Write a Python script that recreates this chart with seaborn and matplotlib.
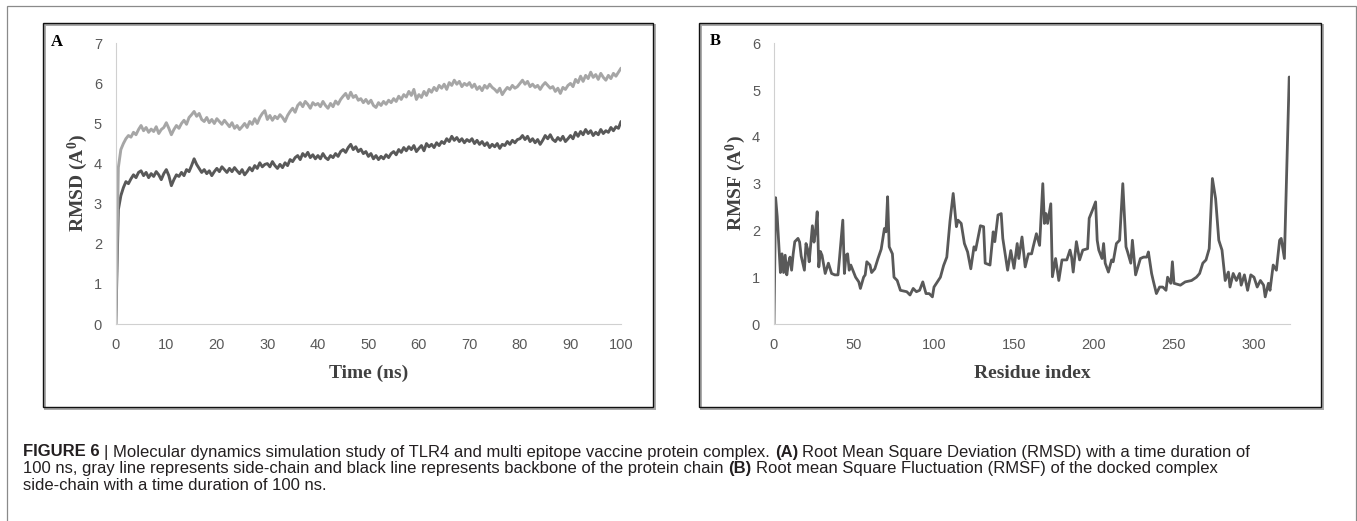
import numpy as np
import pandas as pd
import matplotlib
matplotlib.use("Agg")
import matplotlib.pyplot as plt
import seaborn as sns
from matplotlib.patches import Rectangle

# ---------------- data ----------------
time_ns = np.linspace(0, 100, 201)  # sampling times, 0.5 ns apart

rmsd_sidechain = [
    0.0, 3.9, 4.35, 4.5, 4.62, 4.7, 4.66, 4.78, 4.72, 4.85,
    4.95, 4.82, 4.9, 4.78, 4.86, 4.8, 4.92, 4.75, 4.85, 4.9,
    5.02, 4.88, 4.72, 4.85, 4.95, 4.88, 5.0, 5.08, 4.98, 5.15,
    5.22, 5.3, 5.18, 5.25, 5.1, 5.05, 5.15, 5.02, 5.1, 5.0,
    5.12, 5.05, 4.98, 5.08, 5.0, 4.92, 5.02, 4.88, 4.95, 4.85,
    4.92, 5.0, 4.9, 5.05, 4.98, 5.12, 5.0, 5.15, 5.25, 5.32,
    5.1, 5.2, 5.08, 5.18, 5.12, 5.22, 5.15, 5.05, 5.2, 5.3,
    5.38, 5.28, 5.45, 5.52, 5.42, 5.55, 5.48, 5.38, 5.52, 5.46,
    5.5, 5.42, 5.55, 5.45, 5.38, 5.5, 5.42, 5.56, 5.48, 5.6,
    5.68, 5.75, 5.62, 5.78, 5.65, 5.7, 5.58, 5.62, 5.52, 5.6,
    5.5, 5.58, 5.45, 5.4, 5.52, 5.45, 5.55, 5.48, 5.58, 5.52,
    5.62, 5.55, 5.68, 5.6, 5.72, 5.66, 5.8, 5.7, 5.85, 5.6,
    5.72, 5.65, 5.8, 5.7, 5.85, 5.78, 5.9, 5.82, 5.95, 5.88,
    5.98, 5.85, 6.02, 5.95, 6.08, 5.98, 6.05, 5.92, 6.0, 5.95,
    6.02, 5.9, 5.98, 5.85, 5.92, 5.82, 5.95, 5.88, 5.98, 5.9,
    5.85, 5.78, 5.88, 5.72, 5.82, 5.9, 5.85, 5.95, 5.88, 5.92,
    6.0, 6.08, 5.98, 6.05, 5.92, 5.98, 5.9, 5.95, 5.85, 5.95,
    6.02, 5.95, 5.88, 5.92, 5.8, 5.88, 5.75, 5.9, 5.85, 5.95,
    6.0, 5.92, 6.1, 6.02, 6.18, 6.05, 6.2, 6.12, 6.28, 6.15,
    6.22, 6.1, 6.25, 6.15, 6.08, 6.2, 6.12, 6.25, 6.18, 6.28,
    6.38,
]

rmsd_backbone = [
    0.0, 2.85, 3.2, 3.4, 3.55, 3.5, 3.62, 3.72, 3.65, 3.78,
    3.82, 3.7, 3.78, 3.65, 3.75, 3.68, 3.8, 3.72, 3.6, 3.75,
    3.85, 3.7, 3.45, 3.6, 3.72, 3.68, 3.78, 3.7, 3.85, 3.8,
    3.95, 4.12, 3.98, 3.88, 3.78, 3.85, 3.75, 3.82, 3.7, 3.8,
    3.88, 3.8, 3.92, 3.85, 3.78, 3.88, 3.8, 3.9, 3.82, 3.75,
    3.85, 3.72, 3.8, 3.9, 3.82, 3.95, 3.88, 4.02, 3.92, 3.98,
    4.0, 3.92, 4.05, 3.95, 3.88, 3.98, 3.9, 4.02, 3.95, 4.1,
    4.05, 4.15, 4.2, 4.1, 4.25, 4.18, 4.28, 4.15, 4.22, 4.12,
    4.2, 4.12, 4.25, 4.15, 4.1, 4.2, 4.15, 4.25, 4.18, 4.3,
    4.35, 4.28, 4.4, 4.48, 4.35, 4.42, 4.3, 4.36, 4.25, 4.3,
    4.18, 4.25, 4.12, 4.2, 4.1, 4.18, 4.12, 4.22, 4.15, 4.25,
    4.3, 4.22, 4.35, 4.28, 4.4, 4.32, 4.42, 4.35, 4.45, 4.3,
    4.38, 4.45, 4.32, 4.5, 4.42, 4.48, 4.4, 4.52, 4.45, 4.55,
    4.5, 4.62, 4.55, 4.68, 4.58, 4.65, 4.55, 4.62, 4.52, 4.6,
    4.55, 4.62, 4.5, 4.58, 4.48, 4.55, 4.45, 4.52, 4.4, 4.48,
    4.42, 4.5, 4.38, 4.48, 4.45, 4.55, 4.48, 4.58, 4.52, 4.6,
    4.62, 4.7, 4.6, 4.68, 4.55, 4.62, 4.52, 4.6, 4.48, 4.58,
    4.7, 4.62, 4.72, 4.6, 4.55, 4.65, 4.58, 4.68, 4.55, 4.62,
    4.7, 4.62, 4.78, 4.68, 4.8, 4.72, 4.85, 4.75, 4.82, 4.7,
    4.78, 4.72, 4.85, 4.75, 4.82, 4.78, 4.9, 4.82, 4.92, 4.88,
    5.05,
]

residue = [
    0, 1, 2, 3, 4, 5, 6, 7, 8, 9, 10, 11, 12, 13, 15, 16, 17, 19, 20, 21,
    22, 24, 25, 26, 27, 28, 29, 30, 32, 34, 36, 38, 40, 41, 43, 44, 45, 46, 47, 48,
    51, 53, 54, 56, 57, 58, 60, 61, 63, 65, 67, 69, 70, 71, 72, 74, 75, 77, 79, 83,
    85, 87, 89, 91, 93, 95, 97, 99, 100, 104, 106, 108, 110, 112, 114, 115, 117, 119, 121, 123,
    125, 126, 129, 131, 132, 135, 137, 138, 140, 142, 143, 146, 148, 150, 152, 153, 155, 157, 159, 161,
    162, 164, 166, 168, 169, 170, 171, 173, 174, 176, 178, 180, 183, 185, 186, 187, 189, 191, 193, 196,
    197, 199, 201, 202, 203, 205, 206, 207, 209, 211, 212, 214, 216, 218, 220, 221, 223, 224, 226, 229,
    231, 233, 234, 236, 237, 239, 241, 243, 245, 246, 248, 249, 250, 254, 257, 261, 264, 266, 268, 270,
    272, 274, 276, 278, 280, 282, 284, 285, 287, 289, 291, 292, 294, 296, 298, 300, 302, 304, 306, 307,
    309, 310, 312, 314, 316, 317, 319, 322,
]
rmsf = [
    0.0, 2.7, 2.3, 1.7, 1.1, 1.5, 1.1, 1.47, 1.05, 1.3, 1.43, 1.15, 1.5, 1.76, 1.83, 1.75, 1.45, 1.15, 1.72, 1.6,
    1.33, 2.1, 1.75, 2.0, 2.4, 1.22, 1.55, 1.47, 1.08, 1.3, 1.08, 1.05, 1.05, 1.43, 2.22, 1.08, 1.47, 1.5, 1.15, 1.26,
    1.0, 0.9, 0.76, 1.0, 1.05, 1.33, 1.26, 1.1, 1.18, 1.4, 1.6, 2.04, 1.97, 2.72, 1.65, 1.5, 1.0, 0.93, 0.72, 0.69,
    0.62, 0.76, 0.69, 0.72, 0.9, 0.65, 0.65, 0.58, 0.79, 1.0, 1.25, 1.43, 2.2, 2.79, 2.08, 2.22, 2.15, 1.72, 1.54, 1.18,
    1.65, 1.58, 2.1, 2.08, 1.3, 1.26, 1.97, 1.76, 2.33, 2.36, 1.83, 1.15, 1.57, 1.19, 1.72, 1.4, 1.86, 1.22, 1.5, 1.5,
    1.65, 1.93, 1.68, 3.0, 2.15, 2.36, 2.15, 2.57, 1.01, 1.4, 0.93, 1.37, 1.37, 1.58, 1.43, 1.11, 1.76, 1.37, 1.58, 1.61,
    2.26, 2.43, 2.61, 1.79, 1.58, 1.4, 1.72, 1.3, 1.11, 1.37, 1.33, 1.72, 1.79, 3.0, 1.65, 1.54, 1.3, 1.79, 1.05, 1.4,
    1.43, 1.43, 1.54, 1.08, 0.93, 0.65, 0.79, 0.79, 0.72, 1.0, 0.87, 1.33, 0.87, 0.83, 0.9, 0.93, 1.0, 1.08, 1.3, 1.37,
    1.61, 3.11, 2.68, 1.79, 1.58, 0.93, 1.11, 0.79, 1.08, 0.93, 1.08, 0.83, 1.05, 0.72, 1.05, 1.0, 0.79, 0.93, 0.83, 0.58,
    0.87, 0.72, 1.26, 1.15, 1.79, 1.83, 1.4, 5.28,
]

yticks_A = [0, 1, 2, 3, 4, 5, 6, 7]
xticks_A = [0, 10, 20, 30, 40, 50, 60, 70, 80, 90, 100]
yticks_B = [0, 1, 2, 3, 4, 5, 6]
xticks_B = [0, 50, 100, 150, 200, 250, 300]

caption_lines = [
    [("FIGURE 6", True), ("| Molecular dynamics simulation study of TLR4 and multi epitope vaccine protein complex.", False),
     ("(A)", True), ("Root Mean Square Deviation (RMSD) with a time duration of", False)],
    [("100 ns, gray line represents side-chain and black line represents backbone of the protein chain", False),
     ("(B)", True), ("Root mean Square Fluctuation (RMSF) of the docked complex", False)],
    [("side-chain with a time duration of 100 ns.", False)],
]

# ---------------- style ----------------
sns.set_style("white")
plt.rcParams["font.family"] = ["Liberation Sans", "DejaVu Sans"]
plt.rcParams["mathtext.fontset"] = "custom"
plt.rcParams["mathtext.rm"] = "Liberation Serif:bold"
plt.rcParams["mathtext.it"] = "Liberation Serif:bold"
plt.rcParams["mathtext.bf"] = "Liberation Serif:bold"

cap_font = "Liberation Sans"

W, H = 1357, 521
fig = plt.figure(figsize=(W / 100, H / 100), dpi=100)
fig.patch.set_facecolor("white")


def px_axes(l, r, t, b):
    return fig.add_axes([l / W, 1 - b / H, (r - l) / W, (b - t) / H])


def px_rect(x0, y0, x1, y1, **kw):
    fig.add_artist(Rectangle((x0 / W, 1 - y1 / H), (x1 - x0) / W, (y1 - y0) / H,
                             transform=fig.transFigure, fill=False, **kw))


# outer frame and panel boxes
px_rect(7, 6, 1355.5, 540, ec="#8a8a8a", lw=0.9)
for (x0, x1) in [(43, 653), (699, 1321)]:
    px_rect(x0 + 1.8, 23 + 1.8, x1 + 1.8, 407 + 1.8, ec="#a8a8a8", lw=1.4)
    px_rect(x0, 23, x1, 407, ec="#111111", lw=1.0)

axA = px_axes(115.8, 621, 43.3, 324)
axB = px_axes(774, 1290, 43.3, 324)

dfA = pd.DataFrame({"time": time_ns, "side": rmsd_sidechain, "back": rmsd_backbone})
sns.lineplot(data=dfA, x="time", y="back", ax=axA, color="#595959", lw=2.1, errorbar=None)
sns.lineplot(data=dfA, x="time", y="side", ax=axA, color="#A6A6A6", lw=2.1, errorbar=None)

dfB = pd.DataFrame({"res": residue, "rmsf": rmsf})
sns.lineplot(data=dfB, x="res", y="rmsf", ax=axB, color="#595959", lw=2.0, errorbar=None)

tick_color = "#595959"
label_color = "#404040"
for ax, xt, yt, xlim, ylim, xl, yl, ylx in [
    (axA, xticks_A, yticks_A, (0, 100), (0, 7), "Time (ns)", r"RMSD (A$^{0}$)", -0.0748),
    (axB, xticks_B, yticks_B, (0, 322.5), (0, 6), "Residue index", r"RMSF (A$^{0}$)", -0.0736),
]:
    ax.set_xlim(*xlim)
    ax.set_ylim(*ylim)
    ax.set_xticks(xt)
    ax.set_yticks(yt)
    ax.set_xticklabels([str(v) for v in xt])
    ax.set_yticklabels([str(v) for v in yt])
    ax.tick_params(axis="both", length=0, labelsize=10.5, labelcolor=tick_color)
    ax.tick_params(axis="x", pad=10)
    ax.tick_params(axis="y", pad=10)
    for s in ["top", "right"]:
        ax.spines[s].set_visible(False)
    for s in ["left", "bottom"]:
        ax.spines[s].set_color("#D0D0D0")
        ax.spines[s].set_linewidth(0.8)
    ax.set_xlabel(xl, family="Liberation Serif", fontweight="bold", fontsize=14, color=label_color)
    ax.set_ylabel(yl, family="Liberation Serif", fontweight="bold", fontsize=14, color=label_color)
    ax.xaxis.set_label_coords(0.5, -0.1746)
    ax.xaxis.label.set_va("center")
    ax.yaxis.set_label_coords(ylx, 0.502)
    ax.yaxis.label.set_va("center")
    ax.set_facecolor("none")

fig.text(56.7 / W, 1 - 42 / H, "A", family="Liberation Serif", fontweight="bold", fontsize=12,
         color="black", ha="center", va="center")
fig.text(715 / W, 1 - 41 / H, "B", family="Liberation Serif", fontweight="bold", fontsize=12,
         color="black", ha="center", va="center")

# ---------------- caption ----------------
renderer = fig.canvas.get_renderer()
cap_color = "#231f20"
cap_size = 12.0


def text_w(s, size, bold):
    t = fig.text(0, 0, s, family=cap_font, fontsize=size, fontweight="bold" if bold else "normal")
    w = t.get_window_extent(renderer).width
    t.remove()
    return w


def draw_caption_line(segs, x0, yc, size):
    sp = text_w("x x", size, False) - text_w("xx", size, False)
    x = x0
    for i, (s, b) in enumerate(segs):
        if i > 0:
            x += sp
        fig.text(x / W, 1 - yc / H, s, family=cap_font, fontsize=size,
                 fontweight="bold" if b else "normal", color=cap_color, ha="left", va="center")
        x += text_w(s, size, b)
    return x


for segs, yc in zip(caption_lines, [452, 468.5, 485]):
    draw_caption_line(segs, 23, yc, cap_size)

fig.savefig("out.png", dpi=100)
